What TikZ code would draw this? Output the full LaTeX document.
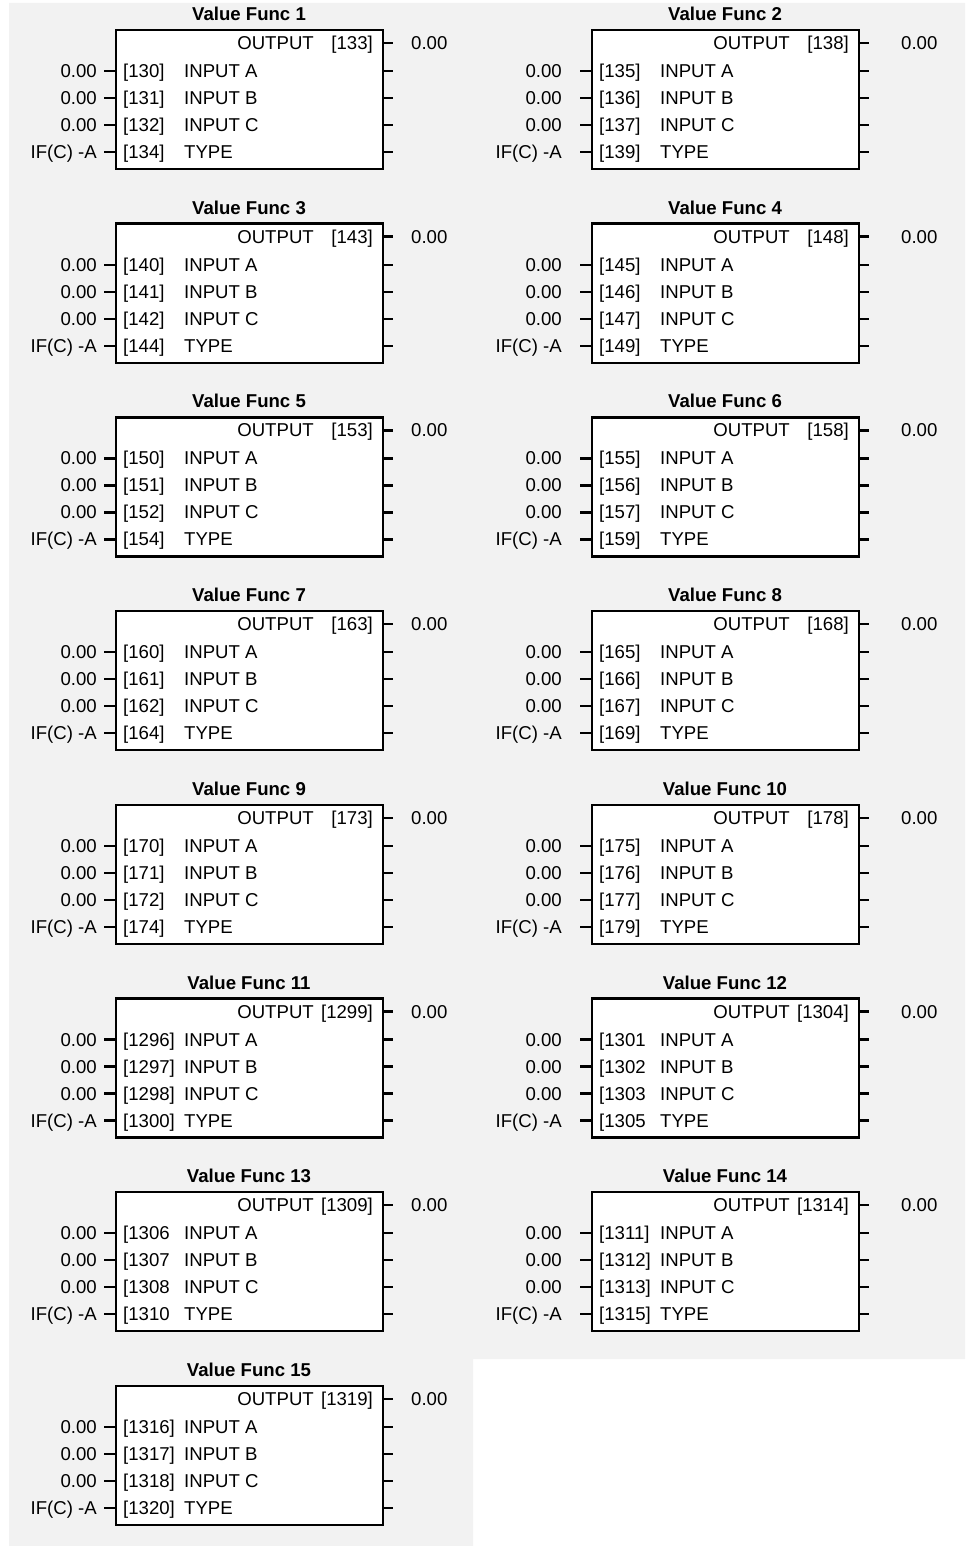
\documentclass[tikz,border=0pt]{standalone}
\usepackage{fontspec}
\setmainfont{Liberation Sans}

\definecolor{bggray}{HTML}{F2F2F2}

\newcommand*{\invalx}{97}
\newcommand*{\outvalx}{411}

% #1 number, #2/#3 shift, #4 output tag, #5-#8 input tags
\newcommand*{\valfunc}[8]{%
	\begin{scope}[shift={(#2,#3)}]
		\node[functitle] (title#1) at (249,20.5) {Value Func #1};
		\node[funcbox] (box#1) at (249.5,99.5) {};

		% output
		\node[parlabel,anchor=base east] (outname#1) at (314,49.5) {OUTPUT};
		\node[parlabel,anchor=base east] (outtag#1) at (373,49.5) {#4};
		\node[parlabel,anchor=base west] (outval#1) at (\outvalx,49.5) {0.00};
		\coordinate (outend#1) at (393,43);
		\draw[stub] (box#1.east |- outend#1) -- (outend#1);

		% inputs
		\foreach \tag/\name/\val/\ry [count=\i] in {{#5}/INPUT A/0.00/71, {#6}/INPUT B/0.00/98, {#7}/INPUT C/0.00/125, {#8}/TYPE/IF(C) -A/152}
		{
			\node[parlabel,anchor=base west] (tag#1-\i) at (123,\ry+6.5) {\tag};
			\node[parlabel,anchor=base west] (name#1-\i) at (184,\ry+6.5) {\name};
			\node[parlabel,anchor=base east] (val#1-\i) at (\invalx,\ry+6.5) {\val};
			\coordinate (inend#1-\i) at (104,\ry);
			\coordinate (stubend#1-\i) at (393,\ry);
			\draw[stub] (inend#1-\i) -- (box#1.west |- inend#1-\i);
			\draw[stub] (box#1.east |- stubend#1-\i) -- (stubend#1-\i);
		}
	\end{scope}}

\begin{document}
\begin{tikzpicture}
[
	x=1pt,y=-1pt,
	functitle/.style={font=\fontsize{18.6}{21}\selectfont\bfseries,anchor=base,inner sep=0pt},
	parlabel/.style={font=\fontsize{18.6}{21}\selectfont,inner sep=0pt},
	funcbox/.style={draw,line width=2.4pt,fill=white,minimum width=267pt,minimum height=139pt,inner sep=0pt},
	stub/.style={line width=2.4pt}
]

	\useasboundingbox (0,0) rectangle (971,1546);

	% background
	\fill[bggray] (9,3) -| (965,1359) -| (473,1546) -| cycle;

	% left column
	\valfunc{1}{0}{0}{[133]}{[130]}{[131]}{[132]}{[134]}
	\valfunc{3}{0}{193.7}{[143]}{[140]}{[141]}{[142]}{[144]}
	\valfunc{5}{0}{387.4}{[153]}{[150]}{[151]}{[152]}{[154]}
	\valfunc{7}{0}{581.1}{[163]}{[160]}{[161]}{[162]}{[164]}
	\valfunc{9}{0}{774.8}{[173]}{[170]}{[171]}{[172]}{[174]}
	\valfunc{11}{0}{968.5}{[1299]}{[1296]}{[1297]}{[1298]}{[1300]}
	\valfunc{13}{0}{1162.2}{[1309]}{[1306}{[1307}{[1308}{[1310}
	\valfunc{15}{0}{1355.9}{[1319]}{[1316]}{[1317]}{[1318]}{[1320]}

	% right column
	\renewcommand*{\invalx}{86}
	\renewcommand*{\outvalx}{425}
	\valfunc{2}{476}{0}{[138]}{[135]}{[136]}{[137]}{[139]}
	\valfunc{4}{476}{193.7}{[148]}{[145]}{[146]}{[147]}{[149]}
	\valfunc{6}{476}{387.4}{[158]}{[155]}{[156]}{[157]}{[159]}
	\valfunc{8}{476}{581.1}{[168]}{[165]}{[166]}{[167]}{[169]}
	\valfunc{10}{476}{774.8}{[178]}{[175]}{[176]}{[177]}{[179]}
	\valfunc{12}{476}{968.5}{[1304]}{[1301}{[1302}{[1303}{[1305}
	\valfunc{14}{476}{1162.2}{[1314]}{[1311]}{[1312]}{[1313]}{[1315]}

\end{tikzpicture}
\end{document}
